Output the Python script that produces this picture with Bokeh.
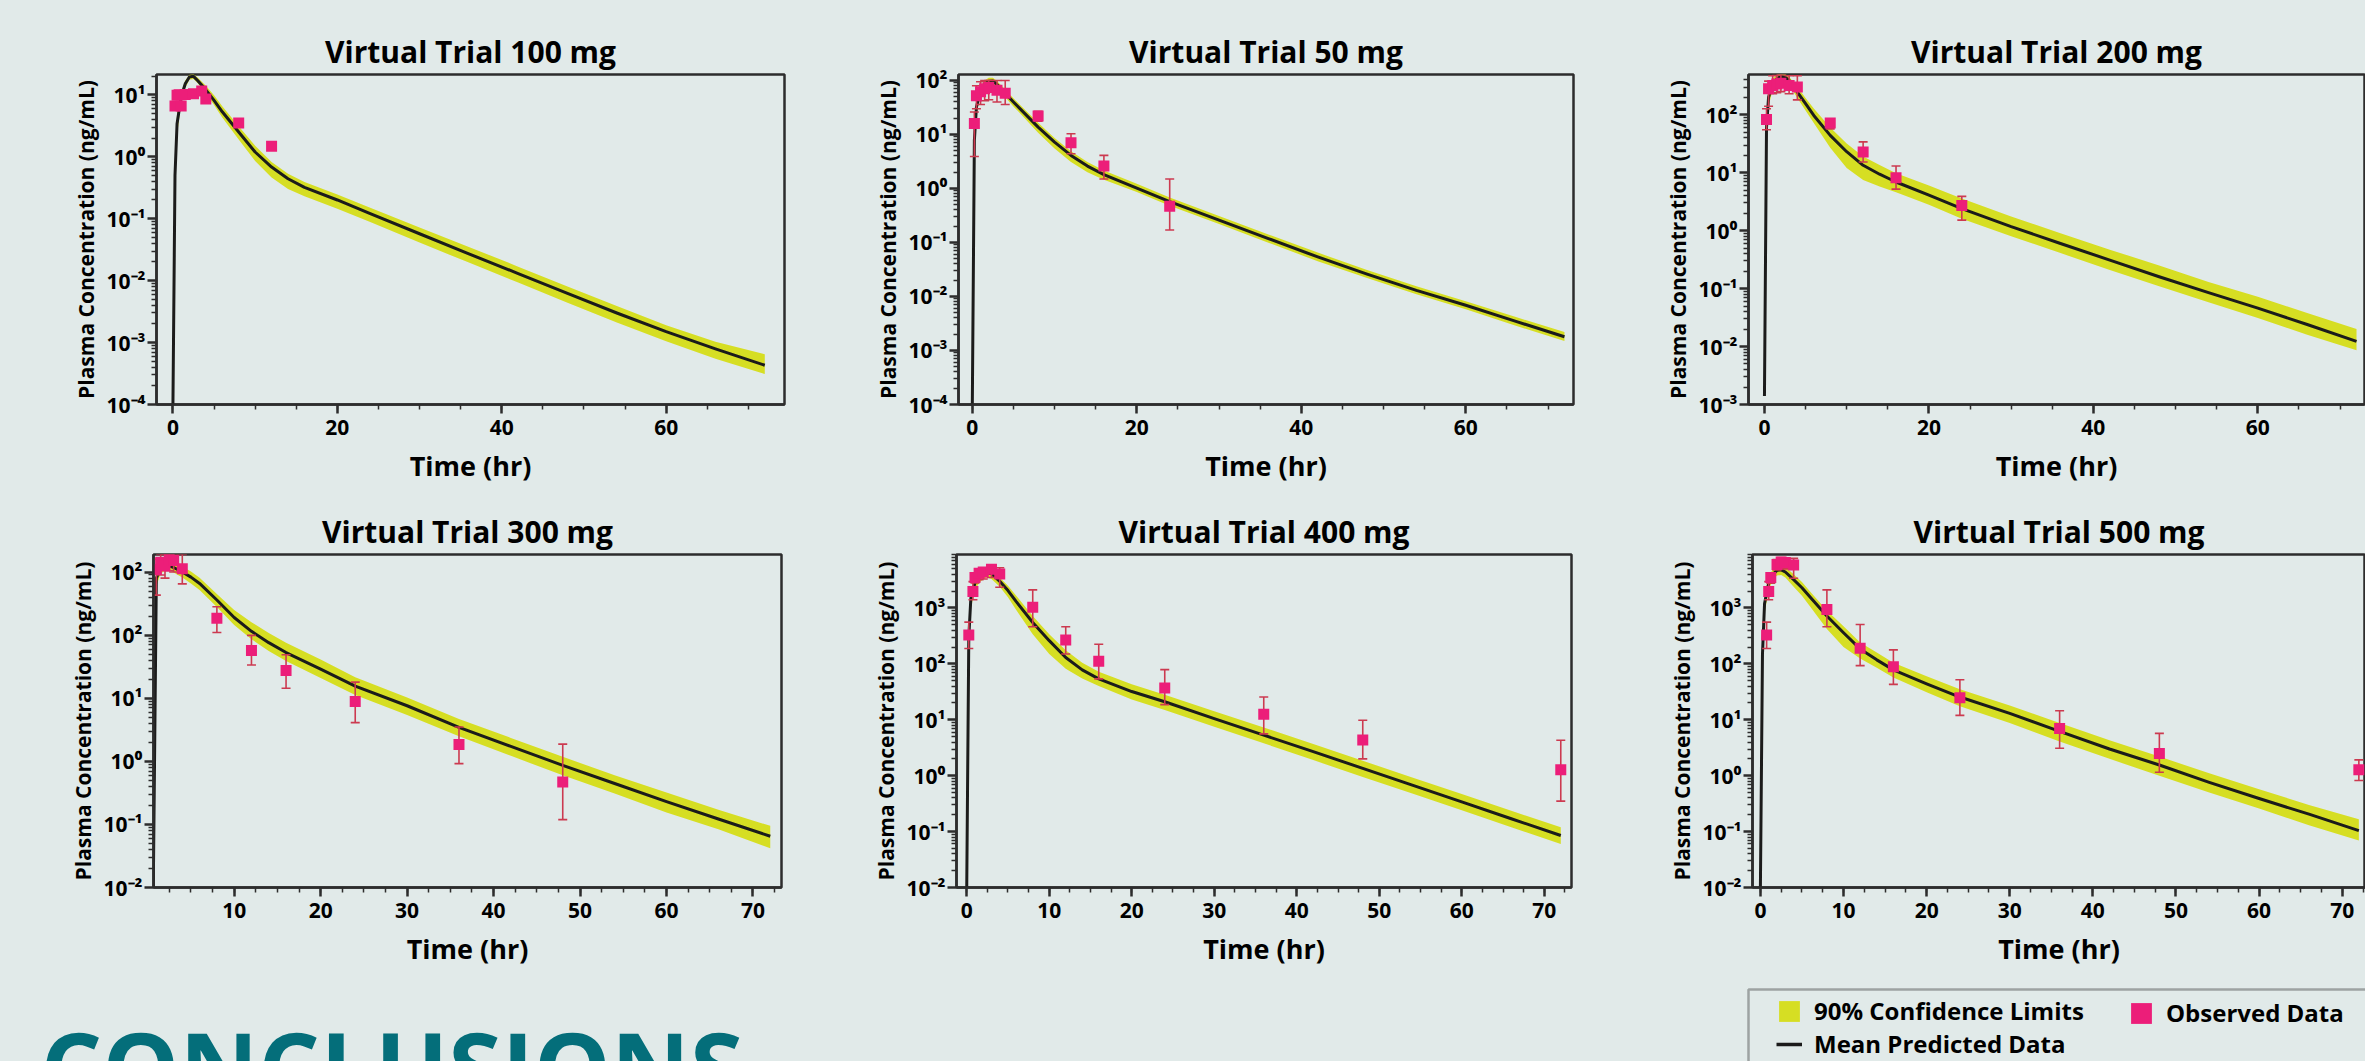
import math
from bokeh.plotting import figure
from bokeh.models import (Range1d, FixedTicker, CustomJSTickFormatter, Label, Legend,
                          LegendItem, BoxAnnotation)
from bokeh.layouts import row, column
from bokeh.embed import file_html
from bokeh.resources import INLINE

BG = "#e1eae9"
BAND = "#d6de23"
LINE = "#1b1b1b"
PINK = "#ec1e79"
ERR = "#cc3a50"
AX = "#2d2d2d"
TEAL = "#046e7a"
FONT = "Open Sans"

# ---------------- data ----------------
time_h = [0, 0.25, 0.5, 1, 1.5, 2, 2.5, 3, 4, 5, 6, 8, 10, 12, 14, 16, 20, 24, 30, 36, 42, 48, 54, 60, 66, 72]

mean_100 = [1e-4, 0.5, 3.4, 9.2, 15, 19.3, 19.8, 17, 12, 8.1, 5.3, 2.5, 1.19, 0.68, 0.44, 0.32, 0.20, 0.12, 0.057, 0.027, 0.013, 0.0062, 0.0030, 0.0015, 0.00079, 0.00043]
upper_100 = [1e-4, 1.0, 5.0, 11, 17, 21, 21.5, 19, 14, 9.8, 6.5, 3.1, 1.5, 0.82, 0.53, 0.39, 0.245, 0.15, 0.072, 0.035, 0.0168, 0.008, 0.0039, 0.0019, 0.00103, 0.00065]
lower_100 = [1e-4, 0.3, 2.2, 7.5, 13, 17.5, 18, 15.5, 10.5, 6.8, 4.3, 1.9, 0.85, 0.46, 0.30, 0.23, 0.145, 0.088, 0.041, 0.0195, 0.0093, 0.0044, 0.0021, 0.00105, 0.00055, 0.00031]
obs_t_100 = [0.25, 0.5, 0.75, 1, 1.5, 2.5, 3.5, 4, 8, 12]
obs_c_100 = [6.6, 9.8, 10.0, 6.6, 10.1, 10.4, 11.5, 8.5, 3.5, 1.47]
obs_lo_100 = [6.0, 9.0, 9.2, 6.0, 9.3, 9.5, 10.4, 7.7, 3.2, 1.33]
obs_hi_100 = [7.3, 10.7, 10.9, 7.3, 11.0, 11.4, 12.6, 9.4, 3.85, 1.62]

mean_50 = [1e-4, 7.8, 32, 65, 87, 97, 98, 84, 58, 40, 28, 13.7, 7.2, 4.1, 2.6, 1.8, 1.02, 0.57, 0.26, 0.118, 0.054, 0.026, 0.013, 0.0069, 0.0035, 0.0018]
upper_50 = [1e-4, 12, 42, 78, 100, 112, 112, 98, 68, 47, 33, 16.5, 8.6, 4.9, 3.1, 2.15, 1.22, 0.68, 0.31, 0.141, 0.065, 0.031, 0.0155, 0.0082, 0.0042, 0.0022]
lower_50 = [1e-4, 5, 24, 54, 75, 84, 85, 72, 49, 33, 23, 10.8, 5.5, 3.1, 2.0, 1.45, 0.86, 0.48, 0.22, 0.099, 0.045, 0.022, 0.011, 0.0058, 0.0029, 0.0015]
obs_t_50 = [0.25, 0.5, 1, 1.5, 2, 3, 4, 8, 12, 16, 24]
obs_c_50 = [16, 52, 62, 70, 74, 66, 58, 22, 7.0, 2.6, 0.47]
obs_lo_50 = [3.9, 30, 36, 42, 44, 40, 36, 17.7, 4.4, 1.5, 0.17]
obs_hi_50 = [26, 80, 95, 100, 100, 100, 100, 27, 10.3, 4.1, 1.5]

mean_200 = [0.0014, 60, 200, 340, 416, 457, 445, 390, 245, 155, 97, 44, 23, 13.4, 9.4, 6.9, 4.1, 2.4, 1.17, 0.60, 0.31, 0.16, 0.085, 0.046, 0.024, 0.0123]
upper_200 = [0.0014, 100, 280, 420, 490, 520, 510, 450, 300, 195, 128, 60, 32, 19, 13.5, 9.8, 6.0, 3.6, 1.75, 0.90, 0.47, 0.25, 0.13, 0.072, 0.038, 0.020]
lower_200 = [0.0014, 35, 140, 270, 350, 395, 385, 330, 195, 118, 72, 27, 12, 7.5, 5.8, 4.6, 2.8, 1.6, 0.80, 0.41, 0.21, 0.11, 0.058, 0.031, 0.016, 0.0086]
obs_t_200 = [0.25, 0.5, 1, 1.5, 2, 3, 4, 8, 12, 16, 24]
obs_c_200 = [83, 280, 320, 340, 350, 320, 300, 72, 22.8, 8.2, 2.7]
obs_lo_200 = [55, 140, 230, 240, 250, 230, 180, 57, 15.3, 5.2, 1.52]
obs_hi_200 = [127, 380, 470, 480, 490, 470, 470, 85, 34, 13, 3.9]

mean_300 = [1e-4, 1e-4, 1e-4, 800, 1150, 1250, 1250, 1180, 1000, 830, 660, 360, 190, 115, 76, 53, 29, 15.5, 7.6, 3.46, 1.72, 0.865, 0.445, 0.23, 0.122, 0.065]
upper_300 = [1e-4, 1e-4, 2e-4, 1000, 1400, 1500, 1500, 1420, 1220, 1020, 810, 450, 250, 160, 108, 76, 41, 21.5, 10.3, 4.7, 2.35, 1.18, 0.60, 0.32, 0.17, 0.095]
lower_300 = [1e-4, 1e-4, 1e-4, 600, 950, 1050, 1050, 980, 820, 660, 520, 280, 145, 86, 56, 39, 21, 11.2, 5.4, 2.5, 1.22, 0.60, 0.31, 0.155, 0.084, 0.042]
obs_t_300 = [1, 1.5, 2, 2.5, 3, 4, 8, 12, 16, 24, 36, 48]
obs_c_300 = [1100, 1430, 1250, 1580, 1520, 1130, 185, 57, 27.5, 8.9, 1.85, 0.47]
obs_lo_300 = [430, 900, 800, 1050, 1000, 650, 110, 33.6, 14.4, 4.1, 0.92, 0.119]
obs_hi_300 = [1600, 1900, 1900, 1900, 1900, 1900, 282, 99, 49, 18, 3.5, 1.87]

mean_400 = [0.01, 300, 1500, 2800, 3500, 4000, 4250, 4100, 3000, 2050, 1300, 550, 260, 130, 78, 54, 32, 21, 10.5, 5.3, 2.7, 1.35, 0.68, 0.34, 0.17, 0.085]
upper_400 = [0.01, 500, 2000, 3400, 4200, 4700, 4900, 4700, 3500, 2500, 1650, 720, 340, 175, 105, 72, 43, 28, 14.2, 7.3, 3.7, 1.85, 0.93, 0.47, 0.235, 0.12]
lower_400 = [0.01, 150, 1000, 2100, 2800, 3300, 3500, 3300, 2400, 1550, 920, 340, 150, 82, 55, 40, 23, 15, 7.5, 3.8, 1.9, 0.95, 0.48, 0.24, 0.12, 0.06]
obs_t_400 = [0.25, 0.75, 1, 1.5, 2, 3, 4, 8, 12, 16, 24, 36, 48, 72]
obs_c_400 = [328, 1970, 3490, 4170, 4400, 4900, 4050, 1030, 268, 111, 37, 12.6, 4.35, 1.28]
obs_lo_400 = [188, 1400, 2800, 3200, 3300, 3500, 2350, 460, 150, 54, 18.7, 5.6, 2.0, 0.35]
obs_hi_400 = [557, 2960, 4000, 4800, 5000, 5300, 5250, 2110, 460, 224, 79, 25.6, 9.8, 4.3]

mean_500 = [0.01, 150, 1200, 2800, 4000, 4700, 4800, 4400, 3200, 2300, 1550, 720, 360, 185, 118, 78, 44, 25.5, 13, 6.2, 3.0, 1.55, 0.76, 0.39, 0.205, 0.104]
upper_500 = [0.01, 300, 1800, 3600, 5000, 5700, 5800, 5400, 4000, 2900, 1950, 900, 470, 240, 160, 105, 60, 35, 18, 8.8, 4.3, 2.2, 1.1, 0.57, 0.3, 0.166]
lower_500 = [0.01, 80, 800, 2100, 3200, 3800, 3900, 3500, 2400, 1650, 1050, 420, 200, 125, 85, 57, 31, 17.5, 8.8, 4.1, 2.0, 1.0, 0.5, 0.26, 0.13, 0.069]
obs_t_500 = [0.75, 1, 1.25, 2, 2.5, 3, 4, 8, 12, 16, 24, 36, 48, 72]
obs_c_500 = [328, 1970, 3490, 6000, 6630, 6500, 5870, 935, 190, 89, 24.7, 7.0, 2.5, 1.28]
obs_lo_500 = [188, 1400, 2770, 4770, 5100, 5000, 3400, 460, 93, 43, 12, 3.1, 1.15, 0.82]
obs_hi_500 = [557, 2960, 4270, 7370, 8000, 7800, 7700, 2110, 507, 178, 52, 14.5, 5.7, 1.92]

titles = ["Virtual Trial 100 mg", "Virtual Trial 50 mg", "Virtual Trial 200 mg",
          "Virtual Trial 300 mg", "Virtual Trial 400 mg", "Virtual Trial 500 mg"]
x_tick_wide = [0, 20, 40, 60]
x_tick_fine = [0, 10, 20, 30, 40, 50, 60, 70]
legend_labels = ["90% Confidence Limits", "Mean Predicted Data", "Observed Data"]
heading = "CONCLUSIONS"

SUP_JS = """
const sup = {"-": "\u207b", "0": "\u2070", "1": "\u00b9", "2": "\u00b2", "3": "\u00b3",
             "4": "\u2074", "5": "\u2075", "6": "\u2076", "7": "\u2077", "8": "\u2078", "9": "\u2079"};
let e = Math.round(Math.log10(tick));
%s
return "10" + String(e).split("").map((c) => sup[c]).join("");
"""


def make_panel(title, mean, upper, lower, ot, oc, olo, ohi, xr, yr, xmajor, xstep,
               width, height, bl, br, bt, bb, relabel=""):
    p = figure(width=width, height=height, x_range=Range1d(*xr), y_range=Range1d(*yr),
               y_axis_type="log", output_backend="svg", toolbar_location=None, title=title,
               min_border_left=bl, min_border_right=br, min_border_top=bt, min_border_bottom=bb,
               background_fill_color=BG, border_fill_color=BG,
               outline_line_color=AX, outline_line_width=2.5)
    p.grid.visible = False
    p.varea(x=time_h, y1=lower, y2=upper, fill_color=BAND, fill_alpha=1.0)
    p.line(time_h, mean, line_color=LINE, line_width=3, line_join="round")
    p.segment(x0=ot, y0=olo, x1=ot, y1=ohi, line_color=ERR, line_width=1.6)
    p.scatter(ot, olo, marker="dash", size=9, line_color=ERR, line_width=1.6)
    p.scatter(ot, ohi, marker="dash", size=9, line_color=ERR, line_width=1.6)
    p.scatter(ot, oc, marker="square", size=11, fill_color=PINK, line_color=None)

    emin = round(math.log10(yr[0]))
    emax = math.floor(math.log10(yr[1]) + 1e-9)
    majors = [10.0 ** e for e in range(emin, emax + 1)]
    minors = [m * 10.0 ** e for e in range(emin, emax + 1) for m in range(2, 10)
              if m * 10.0 ** e <= yr[1]]
    p.yaxis.ticker = FixedTicker(ticks=majors, minor_ticks=minors)
    p.yaxis.formatter = CustomJSTickFormatter(code=SUP_JS % relabel)

    xminor = [i * xstep for i in range(0, int(74 / xstep) + 1)]
    p.xaxis.ticker = FixedTicker(ticks=xmajor, minor_ticks=xminor)

    for ax in (p.xaxis[0], p.yaxis[0]):
        ax.axis_line_color = AX
        ax.axis_line_width = 2.5
        ax.major_tick_line_color = AX
        ax.major_tick_line_width = 2.5
        ax.minor_tick_line_color = AX
        ax.minor_tick_line_width = 1.5
        ax.major_tick_out = 9
        ax.major_tick_in = 0
        ax.minor_tick_out = 5
        ax.minor_tick_in = 0
        ax.major_label_text_font = FONT
        ax.major_label_text_font_style = "bold"
        ax.major_label_text_font_size = "21px"
        ax.major_label_text_color = "black"
        ax.axis_label_text_font = FONT
        ax.axis_label_text_font_style = "bold"
        ax.axis_label_text_color = "black"
    p.xaxis.axis_label = "Time (hr)"
    p.xaxis.axis_label_text_font_size = "27px"
    p.xaxis.axis_label_standoff = 9
    p.xaxis.major_label_standoff = 6
    p.yaxis.axis_label = "Plasma Concentration (ng/mL)"
    p.yaxis.axis_label_text_font_size = "21px"
    p.yaxis.axis_label_standoff = 4
    p.yaxis.major_label_standoff = 2

    p.title.text_font = FONT
    p.title.text_font_size = "30px"
    p.title.text_font_style = "bold"
    p.title.text_color = "black"
    p.title.align = "center"
    p.title.standoff = 5
    return p


pA = make_panel(titles[0], mean_100, upper_100, lower_100, obs_t_100, obs_c_100, obs_lo_100, obs_hi_100,
                (-2.0, 74.4), (1e-4, 21.2), x_tick_wide, 5, 870, 490, 156, 86, 74, 86)
pB = make_panel(titles[1], mean_50, upper_50, lower_50, obs_t_50, obs_c_50, obs_lo_50, obs_hi_50,
                (-1.68, 73.1), (1e-4, 129), x_tick_wide, 5, 790, 490, 86, 87, 74, 86)
pC = make_panel(titles[2], mean_200, upper_200, lower_200, obs_t_200, obs_c_200, obs_lo_200, obs_hi_200,
                (-1.94, 72.97), (1e-3, 494), x_tick_wide, 5, 705, 490, 86, 1, 74, 86)
pD = make_panel(titles[3], mean_300, upper_300, lower_300, obs_t_300, obs_c_300, obs_lo_300, obs_hi_300,
                (0.67, 73.3), (0.01, 1897), x_tick_fine, 2.5, 868, 490, 153, 87, 64, 89,
                relabel="if (e === 3) { e = 2; }")
pE = make_panel(titles[4], mean_400, upper_400, lower_400, obs_t_400, obs_c_400, obs_lo_400, obs_hi_400,
                (-1.24, 73.3), (0.01, 9040), x_tick_fine, 2.5, 796, 490, 85, 93, 61, 93)
pF = make_panel(titles[5], mean_500, upper_500, lower_500, obs_t_500, obs_c_500, obs_lo_500, obs_hi_500,
                (-0.95, 72.8), (0.01, 9040), x_tick_fine, 2.5, 701, 490, 86, 0, 61, 93)

# ---------------- bottom strip: heading + legend (pixel coordinates) ----------------
STRIP_H = 81
strip = figure(width=2365, height=STRIP_H, x_range=Range1d(0, 2365), y_range=Range1d(0, STRIP_H),
               output_backend="svg", toolbar_location=None, min_border=0,
               x_axis_location=None, y_axis_location=None,
               background_fill_color=BG, border_fill_color=BG, outline_line_color=None)
strip.grid.visible = False
strip.add_layout(Label(x=40, y=63, text=heading, text_font=FONT, text_font_style="bold",
                       text_font_size="97px", text_color=TEAL, text_baseline="top",
                       text_align="left"))

# legend proxies (kept outside the visible range)
r_band = strip.varea(x=[-60, -50], y1=[-60, -60], y2=[-50, -50], fill_color=BAND)
r_line = strip.line(x=[-60, -50], y=[-60, -60], line_color=LINE, line_width=3.5)
r_obs = strip.quad(left=[-60], right=[-50], top=[-50], bottom=[-60], fill_color=PINK, line_color=None)

common = dict(border_line_color=None, background_fill_alpha=0.0, padding=0, margin=0,
              spacing=0, label_standoff=12, glyph_width=26, glyph_height=26, label_height=26,
              label_text_font=FONT, label_text_font_style="bold", label_text_font_size="24px",
              label_text_color="black", label_text_baseline="middle")
leg1 = Legend(items=[LegendItem(label=legend_labels[0], renderers=[r_band]),
                     LegendItem(label=legend_labels[1], renderers=[r_line])],
              location=(1776, 1), orientation="vertical", **common)
leg2 = Legend(items=[LegendItem(label=legend_labels[2], renderers=[r_obs])],
              location=(2128, 32), orientation="vertical", **common)
strip.add_layout(leg1)
strip.add_layout(leg2)
strip.add_layout(BoxAnnotation(left=1748, right=2600, bottom=-120, top=72, fill_alpha=0.0,
                               line_color="black", line_width=2.5))

layout = column(row(pA, pB, pC), row(pD, pE, pF), strip)

html = file_html(layout, INLINE, title="Virtual Trials")
html = html.replace("</head>", "<style>body{background-color:%s;}</style></head>" % BG, 1)
open("out.html", "w").write(html)
